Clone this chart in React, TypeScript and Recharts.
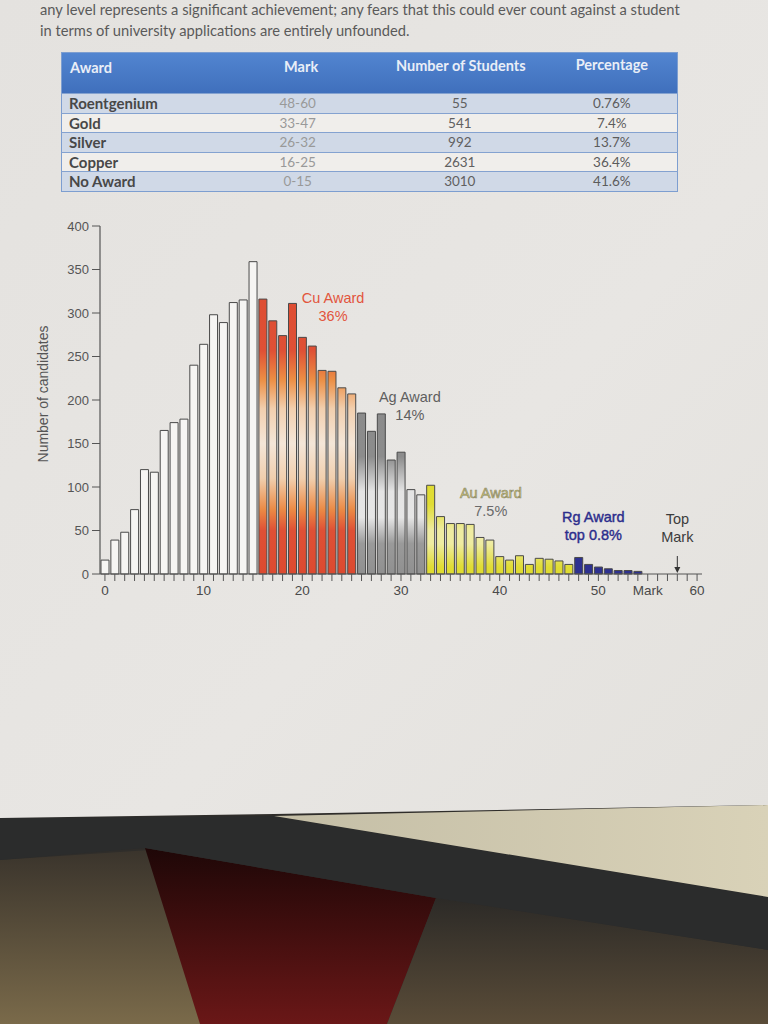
import React from 'react';
import { BarChart, Bar, XAxis, YAxis, Cell, ReferenceDot } from 'recharts';

// ---------- text & table data ----------
const introLines = [
  'any level represents a significant achievement; any fears that this could ever count against a student',
  'in terms of university applications are entirely unfounded.',
];
const tableHeaders = ['Award', 'Mark', 'Number of Students', 'Percentage'];
const awardNames = ['Roentgenium', 'Gold', 'Silver', 'Copper', 'No Award'];
const awardMarkRanges = ['48-60', '33-47', '26-32', '16-25', '0-15'];
const awardStudents = [55, 541, 992, 2631, 3010];
const awardPercentages = ['0.76%', '7.4%', '13.7%', '36.4%', '41.6%'];

// ---------- chart data ----------
const marks = [
  0, 1, 2, 3, 4, 5, 6, 7, 8, 9, 10, 11, 12, 13, 14, 15, 16, 17, 18, 19, 20,
  21, 22, 23, 24, 25, 26, 27, 28, 29, 30, 31, 32, 33, 34, 35, 36, 37, 38, 39, 40,
  41, 42, 43, 44, 45, 46, 47, 48, 49, 50, 51, 52, 53, 54, 55, 56, 57, 58, 59, 60,
];
const candidates = [
  16, 39, 48, 74, 120, 117, 165, 174, 178, 240, 264, 298, 289, 312, 315, 359,
  316, 291, 274, 311, 272, 262, 234, 233, 214, 207,
  185, 164, 184, 131, 140, 97, 91,
  102, 66, 58, 58, 57, 42, 39, 20, 16, 21, 11, 18, 17, 15, 11,
  19, 11, 8, 6, 4, 4, 3,
  0, 0, 0, 0, 0, 0,
];
const yTicks = [0, 50, 100, 150, 200, 250, 300, 350, 400];
const xLabelMarks = [0, 10, 20, 30, 40, 50, 60];
const xAxisTitleMark = 55;
const xAxisTitle = 'Mark';
const yAxisTitle = 'Number of candidates';

const annotationMarks = [22, 31, 39, 50, 58];
const annotationValues = [311, 198, 87, 60, 57];
const annotationTexts = [
  ['Cu Award', '36%'],
  ['Ag Award', '14%'],
  ['Au Award', '7.5%'],
  ['Rg Award', 'top 0.8%'],
  ['Top', 'Mark'],
];
const topMark = 58;

// ---------- styles ----------
const awardFills = ['#2e3190', 'url(#gradGold)', 'url(#gradSilver)', 'url(#gradCopper)', '#f6f5f3'];
const annotationStyles = [
  { fill: '#e2553d', dx: 11 },
  { fill: '#5f5f5f', dx: -1 },
  { fill: '#d2cc6a', stroke: '#8a8770', dx: 1, fill2: '#6a6a6a' },
  { fill: '#2c2d8c', dx: -5, stroke: '#2c2d8c' },
  { fill: '#3c3c3c', dx: 0 },
];

const chartData = marks.map((m, i) => ({ mark: m, count: candidates[i] }));

const awardIndexFor = (mark: number) =>
  awardMarkRanges.findIndex((r) => {
    const [lo, hi] = r.split('-').map(Number);
    return mark >= lo && mark <= hi;
  });

const PLOT_TOP = 16;
const PLOT_BOTTOM = 364;
const off = (v: number) => `${((400 - v) / 400) * 100}%`;

const XTick = (props: any) => {
  const { x, y, payload } = props;
  const v = payload.value;
  return (
    <g>
      {xLabelMarks.includes(v) && (
        <text x={x} y={y} dy="0.71em" textAnchor="middle" fontSize={13.5} fill="#4a4a4a">
          {v}
        </text>
      )}
      {v === xAxisTitleMark && (
        <text x={x} y={y} dy="0.71em" textAnchor="middle" fontSize={13.5} fill="#4a4a4a">
          {xAxisTitle}
        </text>
      )}
    </g>
  );
};

const makeAnnotation = (i: number) => (props: any) => {
  const vb = props.viewBox || {};
  const st: any = annotationStyles[i];
  const cx = (vb.x || 0) + (vb.width || 0) / 2 + st.dx;
  const cy = (vb.y || 0) + (vb.height || 0) / 2;
  const lines = annotationTexts[i];
  const bothStroked = i === 3;
  return (
    <g>
      {lines.map((t, k) => (
        <text
          key={k}
          x={cx}
          y={cy + k * 18}
          textAnchor="middle"
          fontSize={14.5}
          fill={k === 1 && st.fill2 ? st.fill2 : st.fill}
          stroke={k === 0 || bothStroked ? st.stroke : undefined}
          strokeWidth={st.stroke ? (bothStroked ? 0.4 : 0.6) : undefined}
        >
          {t}
        </text>
      ))}
    </g>
  );
};

const ArrowShape = (props: any) => {
  const { cx, cy } = props;
  if (cx == null || cy == null) return null;
  return (
    <g>
      <line x1={cx} y1={cy - 18} x2={cx} y2={cy - 5} stroke="#333" strokeWidth={1} />
      <polygon points={`${cx - 3},${cy - 7} ${cx + 3},${cy - 7} ${cx},${cy - 1}`} fill="#333" />
    </g>
  );
};

const YTitle = (props: any) => {
  const vb = props.viewBox || { x: 0, y: 0, width: 0, height: 0 };
  const x = vb.x + 23;
  const y = vb.y + vb.height / 2 - 6;
  return (
    <text x={x} y={y} transform={`rotate(-90 ${x} ${y})`} textAnchor="middle" dominantBaseline="central" fontSize={14} fill="#555">
      {yAxisTitle}
    </text>
  );
};

const Background = () => (
  <svg width={768} height={1024} style={{ position: 'absolute', left: 0, top: 0 }}>
    <defs>
      <linearGradient id="paperG" x1="0" y1="0" x2="1" y2="1">
        <stop offset="0%" stopColor="#e4e2df" />
        <stop offset="60%" stopColor="#e8e6e3" />
        <stop offset="100%" stopColor="#e3e1dd" />
      </linearGradient>
      <linearGradient id="redG" x1="0" y1="0" x2="0" y2="1">
        <stop offset="0%" stopColor="#1e0707" />
        <stop offset="100%" stopColor="#6a1717" />
      </linearGradient>
      <linearGradient id="brownG" x1="0" y1="0" x2="0" y2="1">
        <stop offset="0%" stopColor="#3a342c" />
        <stop offset="100%" stopColor="#7a6a4a" />
      </linearGradient>
      <linearGradient id="brownR" x1="0" y1="0" x2="0" y2="1">
        <stop offset="0%" stopColor="#2c2a27" />
        <stop offset="100%" stopColor="#5a4c38" />
      </linearGradient>
      <linearGradient id="creamG" x1="0" y1="0" x2="1" y2="0">
        <stop offset="0%" stopColor="#c4bea6" />
        <stop offset="100%" stopColor="#d9d2b8" />
      </linearGradient>
    </defs>
    <rect x={0} y={780} width={768} height={244} fill="#2f2d2a" />
    <polygon points="0,860 150,850 205,1024 0,1024" fill="url(#brownG)" />
    <polygon points="145,848 436,898 387,1024 200,1024" fill="url(#redG)" />
    <polygon points="436,898 768,950 768,1024 387,1024" fill="url(#brownR)" />
    <polygon points="0,818 274,816 768,897 768,950 436,898 145,848 0,860" fill="#2b2c2c" />
    <polygon points="274,816 768,805 768,897" fill="url(#creamG)" />
    <polygon points="0,0 768,0 768,805 274,814 0,818" fill="url(#paperG)" />
  </svg>
);

const cellBase: React.CSSProperties = { padding: '0 7px', height: 18.5, lineHeight: '18px', fontSize: 13.5 };

export default function App() {
  return (
    <div style={{ position: 'absolute', left: 0, top: 0, width: 768, height: 1024, overflow: 'hidden', fontFamily: 'Lato, "Open Sans", sans-serif' }}>
      <Background />
      <div style={{ position: 'absolute', left: 40, top: -1, fontSize: 14.7, color: '#5a5a5a', lineHeight: '21px', whiteSpace: 'nowrap' }}>
        {introLines.map((l, i) => (
          <div key={i}>{l}</div>
        ))}
      </div>
      <table
        style={{
          position: 'absolute',
          left: 61,
          top: 52,
          width: 617,
          borderCollapse: 'collapse',
          border: '1.5px solid #7d9ed0',
        }}
      >
        <colgroup>
          <col style={{ width: 159 }} />
          <col style={{ width: 155 }} />
          <col style={{ width: 165 }} />
          <col style={{ width: 138 }} />
        </colgroup>
        <thead>
          <tr style={{ height: 41, background: 'linear-gradient(#5285d0, #3f6fbc)' }}>
            {tableHeaders.map((h, i) => (
              <th
                key={h}
                style={{
                  verticalAlign: 'top',
                  paddingTop: 6 - i,
                  paddingLeft: 8,
                  textAlign: i === 0 ? 'left' : 'center',
                  color: '#e9eef7',
                  fontWeight: 700,
                  fontSize: 14.5,
                }}
              >
                {h}
              </th>
            ))}
          </tr>
        </thead>
        <tbody>
          {awardNames.map((n, i) => (
            <tr key={n} style={{ background: i % 2 === 0 ? '#d0d9e7' : '#f0eeeb', borderTop: '1.5px solid #84a2d0' }}>
              <td style={{ ...cellBase, color: '#484848', fontWeight: 700, fontSize: 15 }}>{n}</td>
              <td style={{ ...cellBase, color: '#999', textAlign: 'center' }}>{awardMarkRanges[i]}</td>
              <td style={{ ...cellBase, color: '#606060', textAlign: 'center', paddingLeft: 12 }}>{awardStudents[i]}</td>
              <td style={{ ...cellBase, color: '#5c5c5c', textAlign: 'center', paddingLeft: 14 }}>{awardPercentages[i]}</td>
            </tr>
          ))}
        </tbody>
      </table>

      <div style={{ position: 'absolute', left: 20, top: 210, fontFamily: '"Liberation Sans", Arial, sans-serif' }}>
        <BarChart width={700} height={400} data={chartData} margin={{ top: PLOT_TOP, right: 18, bottom: 6, left: 0 }}>
          <defs>
            <linearGradient id="gradCopper" gradientUnits="userSpaceOnUse" x1={0} y1={PLOT_TOP} x2={0} y2={PLOT_BOTTOM}>
              <stop offset="0%" stopColor="#dc4a30" />
              <stop offset={off(257)} stopColor="#df5035" />
              <stop offset={off(223)} stopColor="#ec8f45" />
              <stop offset={off(190)} stopColor="#f2cfae" />
              <stop offset={off(150)} stopColor="#f4e6d8" />
              <stop offset={off(110)} stopColor="#f1cfae" />
              <stop offset={off(74)} stopColor="#eb8a45" />
              <stop offset={off(50)} stopColor="#df5035" />
              <stop offset="100%" stopColor="#dc4a30" />
            </linearGradient>
            <linearGradient id="gradSilver" gradientUnits="userSpaceOnUse" x1={0} y1={PLOT_TOP} x2={0} y2={PLOT_BOTTOM}>
              <stop offset="0%" stopColor="#888888" />
              <stop offset={off(135)} stopColor="#8c8c8c" />
              <stop offset={off(95)} stopColor="#e4e4e4" />
              <stop offset={off(65)} stopColor="#e6e6e6" />
              <stop offset={off(35)} stopColor="#9a9a9a" />
              <stop offset="100%" stopColor="#909090" />
            </linearGradient>
            <linearGradient id="gradGold" gradientUnits="userSpaceOnUse" x1={0} y1={PLOT_TOP} x2={0} y2={PLOT_BOTTOM}>
              <stop offset="0%" stopColor="#dedb30" />
              <stop offset={off(80)} stopColor="#e0dc34" />
              <stop offset={off(50)} stopColor="#efeca2" />
              <stop offset={off(35)} stopColor="#efeca2" />
              <stop offset={off(8)} stopColor="#e0dc34" />
              <stop offset="100%" stopColor="#dedb30" />
            </linearGradient>
          </defs>
          <XAxis
            dataKey="mark"
            interval={0}
            tickSize={7}
            tickMargin={4}
            height={30}
            tick={<XTick />}
            axisLine={{ stroke: '#555', strokeWidth: 1.2 }}
            tickLine={{ stroke: '#555', strokeWidth: 1 }}
          />
          <YAxis
            width={80}
            domain={[0, 400]}
            ticks={yTicks}
            interval={0}
            tickSize={8}
            tickMargin={3}
            tick={{ fill: '#555', fontSize: 13 }}
            axisLine={{ stroke: '#555', strokeWidth: 1.2 }}
            tickLine={{ stroke: '#555', strokeWidth: 1 }}
            label={<YTitle />}
          />
          <Bar dataKey="count" barSize={8} stroke="#4a4a4a" strokeWidth={1} isAnimationActive={false}>
            {chartData.map((d) => (
              <Cell key={d.mark} fill={awardFills[awardIndexFor(d.mark)]} />
            ))}
          </Bar>
          {annotationMarks.map((m, i) => (
            <ReferenceDot
              key={i}
              x={m}
              y={annotationValues[i]}
              r={0}
              ifOverflow="visible"
              fill="none"
              stroke="none"
              label={makeAnnotation(i)}
            />
          ))}
          <ReferenceDot x={topMark} y={0} r={0} ifOverflow="visible" shape={<ArrowShape />} />
        </BarChart>
      </div>
    </div>
  );
}
